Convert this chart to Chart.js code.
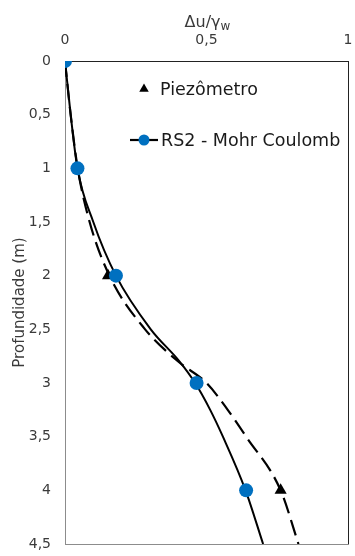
<!DOCTYPE html>
<html>
<head>
<meta charset="utf-8">
<script src="https://cdn.jsdelivr.net/npm/chart.js@4.4.0/dist/chart.umd.min.js"></script>
<style>
    html, body { margin: 0; padding: 0; background: #fff; overflow: hidden; }
    canvas { display: block; }
</style>
</head>
<body>
<canvas id="chartDepth" width="355" height="556"></canvas>
<script>
// measured points
const depthRs2 = [0, 1, 2, 3, 4];
const valueRs2 = [0, 0.044, 0.18, 0.465, 0.64];
const depthPiezo = [2, 4];
const valuePiezo = [0.152, 0.762];

// fitted curves
const depthCurve = [0, 0.5, 1, 1.5, 2, 2.5, 2.8, 3, 3.25, 3.5, 4, 4.5];
const valueCurveSolid = [0, 0.02, 0.044, 0.10, 0.18, 0.303, 0.405, 0.46, 0.513, 0.558, 0.638, 0.70];
const valueCurveDashed = [0, 0.02, 0.045, 0.087, 0.157, 0.283, 0.40, 0.50, 0.575, 0.64, 0.762, 0.825];

// axes
const xTicks = [0, 0.5, 1];
const yTicks = [0, 0.5, 1, 1.5, 2, 2.5, 3, 3.5, 4, 4.5];
const labelPiezo = 'Piezômetro';
const labelRs2 = 'RS2 - Mohr Coulomb';
const yTitle = 'Profundidade (m)';

Chart.defaults.font.family = "'DejaVu Sans', sans-serif";
Chart.defaults.color = '#3a3a3a';

const BLUE = '#0070C0';
const toPts = (xs, ys) => xs.map((x, i) => ({ x: x, y: ys[i] }));
const comma = v => String(v).replace('.', ',');

const frame = {
    id: 'frame',
    afterDatasetsDraw(chart) {
        const { ctx, chartArea: a } = chart;
        ctx.save();
        ctx.lineWidth = 1;
        ctx.strokeStyle = '#222';
        ctx.beginPath();
        ctx.moveTo(a.right + 0.5, a.top);
        ctx.lineTo(a.right + 0.5, a.bottom);
        ctx.stroke();
        ctx.strokeStyle = '#8c8c8c';
        ctx.beginPath();
        ctx.moveTo(a.left, a.bottom + 0.5);
        ctx.lineTo(a.right + 1, a.bottom + 0.5);
        ctx.stroke();
        ctx.restore();
    }
};

const titleAndLegend = {
    id: 'titleAndLegend',
    afterDraw(chart) {
        const { ctx, chartArea: a } = chart;
        ctx.save();
        // x title with subscript
        const main = 'Δu/γ', sub = 'w';
        ctx.font = "16px 'DejaVu Sans'";
        const w1 = ctx.measureText(main).width;
        ctx.font = "12px 'DejaVu Sans'";
        const w2 = ctx.measureText(sub).width;
        let x0 = (a.left + a.right) / 2 - (w1 + w2) / 2 + 1;
        ctx.fillStyle = '#3a3a3a';
        ctx.textBaseline = 'alphabetic';
        ctx.font = "16px 'DejaVu Sans'";
        ctx.fillText(main, x0, 27);
        ctx.font = "12px 'DejaVu Sans'";
        ctx.fillText(sub, x0 + w1, 30);

        // legend
        ctx.font = "17.5px 'DejaVu Sans'";
        ctx.textBaseline = 'middle';
        ctx.fillStyle = '#000';
        Chart.helpers.drawPoint(ctx, { pointStyle: 'triangle', radius: 5.5, borderWidth: 0 }, 144, 89);
        ctx.fillStyle = '#1a1a1a';
        ctx.fillText(labelPiezo, 160, 90);

        ctx.strokeStyle = '#000';
        ctx.lineWidth = 2.2;
        ctx.beginPath();
        ctx.moveTo(130, 140);
        ctx.lineTo(158, 140);
        ctx.stroke();
        ctx.fillStyle = BLUE;
        Chart.helpers.drawPoint(ctx, { pointStyle: 'circle', radius: 5.5, borderWidth: 0 }, 144, 140);
        ctx.fillStyle = '#1a1a1a';
        ctx.fillText(labelRs2, 161, 141);
        ctx.restore();
    }
};

new Chart(document.querySelector('#chartDepth').getContext('2d'), {
    type: 'scatter',
    data: {
        datasets: [
            {
                label: labelRs2,
                data: toPts(valueRs2, depthRs2),
                pointStyle: 'circle',
                pointRadius: 7,
                pointBackgroundColor: BLUE,
                pointBorderWidth: 0,
                showLine: false,
                order: 0
            },
            {
                label: labelPiezo,
                data: toPts(valuePiezo, depthPiezo),
                pointStyle: 'triangle',
                pointRadius: 7,
                pointBackgroundColor: '#000',
                pointBorderWidth: 0,
                showLine: false,
                order: 0
            },
            {
                label: 'solid',
                data: toPts(valueCurveSolid, depthCurve),
                showLine: true,
                borderColor: '#000',
                borderWidth: 2,
                pointRadius: 0,
                cubicInterpolationMode: 'monotone',
                order: 1
            },
            {
                label: 'dashed',
                data: toPts(valueCurveDashed, depthCurve),
                showLine: true,
                borderColor: '#000',
                borderWidth: 2.2,
                borderDash: [16, 7],
                pointRadius: 0,
                cubicInterpolationMode: 'monotone',
                order: 1
            }
        ]
    },
    plugins: [frame, titleAndLegend],
    options: {
        responsive: false,
        animation: false,
        layout: { padding: { left: 0, right: 4, top: 0, bottom: 12 } },
        plugins: {
            legend: { display: false },
            tooltip: { enabled: false }
        },
        scales: {
            x: {
                type: 'linear',
                position: 'top',
                min: 0,
                max: 1,
                afterBuildTicks: s => { s.ticks = xTicks.map(v => ({ value: v })); },
                afterFit: s => { s.height = 61; s.paddingLeft = 0; s.paddingRight = 0; },
                grid: { display: false, drawTicks: false },
                border: { color: '#222', width: 1 },
                ticks: { padding: 12, font: { size: 14 }, callback: comma, maxRotation: 0 }
            },
            y: {
                type: 'linear',
                reverse: true,
                min: 0,
                max: 4.5,
                afterBuildTicks: s => { s.ticks = yTicks.map(v => ({ value: v })); },
                afterFit: s => { s.width = 65; s.paddingTop = 0; s.paddingBottom = 0; },
                grid: { display: false, drawTicks: false },
                border: { color: '#8c8c8c', width: 1 },
                ticks: { padding: 14, font: { size: 14 }, callback: comma },
                title: {
                    display: true,
                    text: yTitle,
                    font: { size: 15 },
                    color: '#3a3a3a',
                    padding: { top: 11, bottom: 0 }
                }
            }
        }
    }
});
</script>
</body>
</html>
